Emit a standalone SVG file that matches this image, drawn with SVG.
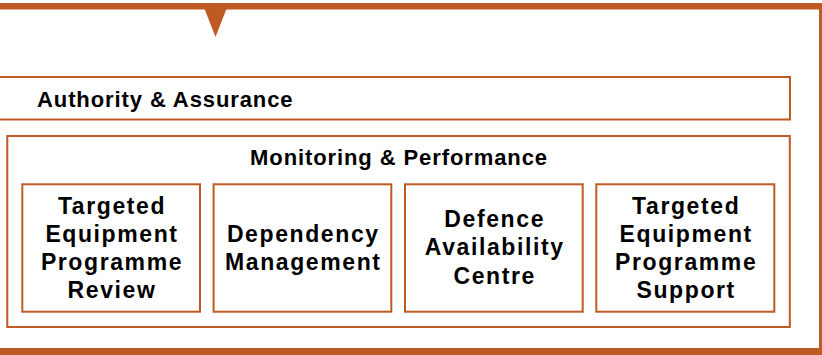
<svg xmlns="http://www.w3.org/2000/svg" width="822" height="355" viewBox="0 0 822 355">
<style>
.frame{fill:#C05A24;}
.box{fill:#FFFFFF;stroke:#C05A24;stroke-width:2;}
.head{font-family:"Liberation Sans",Arial,sans-serif;font-weight:bold;font-size:22px;letter-spacing:0.9px;fill:#000;}
.lbl{font-family:"Liberation Sans",Arial,sans-serif;font-weight:bold;font-size:23px;letter-spacing:1.6px;fill:#000;text-anchor:middle;}
</style>
<rect width="822" height="355" fill="#FFFFFF"/>
<g id="frame">
<rect class="frame" x="0" y="3" width="822" height="6.5"/>
<rect class="frame" x="819" y="3" width="3" height="352"/>
<rect class="frame" x="0" y="348" width="822" height="7"/>
<polygon class="frame" points="203,5 228,5 215.5,37"/>
</g>
<g id="authority">
<rect class="box" x="-5" y="77" width="795" height="42.5"/>
<text class="head" x="37" y="107">Authority &amp; Assurance</text>
</g>
<g id="monitoring">
<rect class="box" x="7.3" y="136" width="782.5" height="191"/>
<text class="head" x="399" y="165" text-anchor="middle">Monitoring &amp; Performance</text>
</g>
<g id="tepr">
<rect class="box" x="22.3" y="184.3" width="177.7" height="127.4"/>
<text class="lbl" x="112" y="213.5">Targeted</text>
<text class="lbl" x="112" y="241.7">Equipment</text>
<text class="lbl" x="112" y="270">Programme</text>
<text class="lbl" x="112" y="298.3">Review</text>
</g>
<g id="dependency">
<rect class="box" x="213.6" y="184.3" width="177.7" height="127.4"/>
<text class="lbl" x="303.3" y="242.3">Dependency</text>
<text class="lbl" x="303.3" y="270.3">Management</text>
</g>
<g id="dac">
<rect class="box" x="405" y="184.3" width="177.7" height="127.4"/>
<text class="lbl" x="494.7" y="227">Defence</text>
<text class="lbl" x="494.7" y="255.3">Availability</text>
<text class="lbl" x="494.7" y="283.5">Centre</text>
</g>
<g id="teps">
<rect class="box" x="596.3" y="184.3" width="178" height="127.4"/>
<text class="lbl" x="686.2" y="213.5">Targeted</text>
<text class="lbl" x="686.2" y="241.7">Equipment</text>
<text class="lbl" x="686.2" y="270">Programme</text>
<text class="lbl" x="686.2" y="298.3">Support</text>
</g>
<g id="connectors"></g>
</svg>
